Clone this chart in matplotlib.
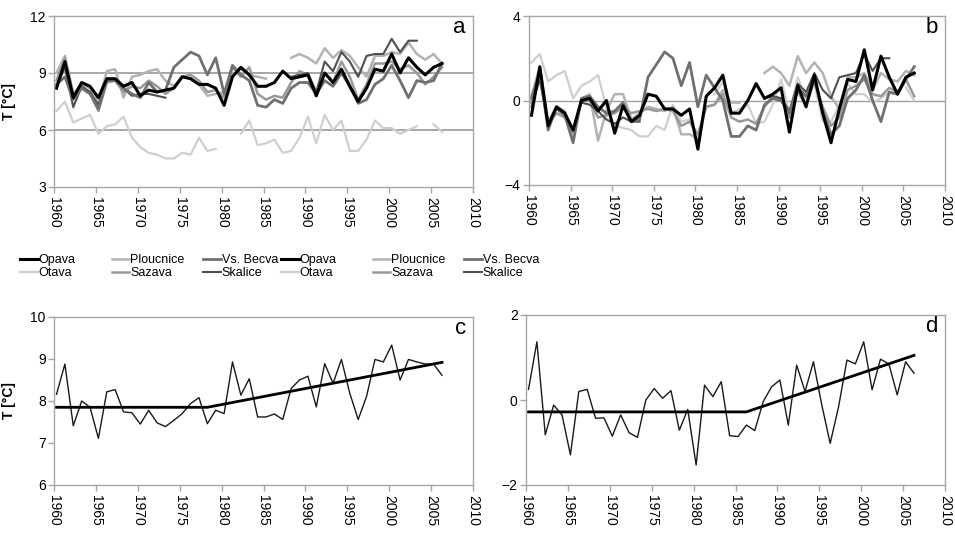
import numpy as np
import matplotlib
matplotlib.use("Agg")
import matplotlib.pyplot as plt
from matplotlib.lines import Line2D

plt.rcParams['font.family'] = ['Liberation Sans', 'DejaVu Sans']

nan = np.nan
years = np.arange(1960, 2007)
X_SHIFT = 0.3  # points sit a little right of the year tick

# panel a - station temperatures [°C]
opava_a = [8.2, 9.6, 7.7, 8.5, 8.3, 7.7, 8.7, 8.7, 8.3, 8.5,
           7.8, 8.1, 8.0, 8.1, 8.2, 8.8, 8.7, 8.4, 8.4, 8.2,
           7.3, 8.8, 9.3, 8.9, 8.3, 8.3, 8.5, 9.1, 8.7, 8.8,
           8.9, 7.8, 9.0, 8.5, 9.2, 8.3, 7.5, 8.2, 9.2, 9.1,
           10.0, 9.0, 9.8, 9.3, 8.9, 9.3, 9.5]
otava_a = [7.0, 7.5, 6.4, 6.6, 6.8, 5.8, 6.2, 6.3, 6.7, 5.6,
           5.1, 4.8, 4.7, 4.5, 4.5, 4.8, 4.7, 5.6, 4.9, 5.0,
           nan, nan, 5.8, 6.5, 5.2, 5.3, 5.5, 4.8, 4.9, 5.6,
           6.7, 5.3, 6.8, 6.0, 6.5, 4.9, 4.9, 5.5, 6.5, 6.1,
           6.1, 5.8, 6.0, 6.2, nan, 6.3, 5.9]
ploucnice_a = [9.0, 9.9, 7.9, 8.4, 8.2, 7.4, 9.1, 9.2, 7.7, 8.8,
               8.9, 9.1, 9.2, 8.6, 8.3, 8.8, 8.7, 8.4, 7.8, 7.9,
               8.0, 8.9, 9.2, 8.9, 8.8, 8.7, nan, nan, 9.8, 10.0,
               9.8, 9.5, 10.3, 9.8, 10.2, 9.9, 9.3, 8.8, 9.9, 9.9,
               10.1, 10.0, 10.6, 10.0, 9.7, 10.0, 9.5]
sazava_a = [8.6, 9.8, 7.9, 8.2, 8.0, 7.0, 8.5, 8.6, 8.0, 8.3,
            8.2, 8.6, 8.3, 7.9, 8.2, 8.8, 8.9, 8.6, 8.0, 8.1,
            7.7, 9.3, 8.8, 9.3, 7.9, 7.6, 7.8, 7.7, 8.5, 9.1,
            8.9, 7.9, 9.0, 8.5, 9.6, 8.8, 7.6, 8.4, 9.5, 9.5,
            9.6, 9.2, 9.4, 9.0, 8.4, 8.8, 9.3]
becva_a = [8.4, 8.8, 7.6, 8.2, 7.9, 7.1, 8.6, 8.6, 8.2, 7.9,
           7.7, 8.5, 8.0, 8.1, 9.3, 9.7, 10.1, 9.9, 8.9, 9.8,
           7.9, 9.4, 8.9, 8.6, 7.3, 7.2, 7.6, 7.4, 8.2, 8.5,
           8.5, 7.9, 8.6, 8.3, 9.0, 8.3, 7.4, 7.6, 8.4, 8.7,
           9.4, 8.6, 7.7, 8.6, 8.5, 8.6, 9.5]
skalice_a = [8.3, 9.3, 7.2, 8.3, 8.0, 7.3, 8.6, 8.6, 8.2, 7.8,
             7.9, 7.9, 7.8, 7.7, nan, nan, nan, nan, nan, nan,
             nan, nan, nan, nan, nan, nan, nan, nan, 8.8, 8.9,
             9.0, 8.0, 9.6, 9.1, 10.1, 9.6, 8.8, 9.9, 10.0, 10.0,
             10.8, 10.1, 10.7, 10.7, nan, nan, nan]

# panel b - anomalies [°C]
opava_b = [-0.7, 1.6, -1.2, -0.3, -0.6, -1.4, 0.0, 0.1, -0.5, 0.0,
           -1.55, -0.25, -1.0, -0.7, 0.3, 0.2, -0.4, -0.4, -0.7, -0.4,
           -2.3, 0.2, 0.6, 1.2, -0.6, -0.6, 0.0, 0.8, 0.1, 0.3,
           0.6, -1.5, 0.7, -0.3, 1.2, -0.6, -2.0, -0.4, 1.0, 0.9,
           2.4, 0.5, 2.1, 1.1, 0.3, 1.1, 1.3]
otava_b = [1.8, 2.2, 0.9, 1.2, 1.4, 0.1, 0.7, 0.9, 1.2, -0.3,
           -1.2, -1.3, -1.4, -1.7, -1.7, -1.2, -1.4, -0.2, -1.0, -0.9,
           nan, nan, 0.3, 0.9, -0.6, -0.4, -0.2, -1.1, -1.0, -0.2,
           1.0, -0.6, 1.1, 0.1, 0.8, -1.0, -1.0, -0.2, 0.8, 0.3,
           0.3, -0.1, 0.1, 0.4, nan, 0.6, 0.0]
ploucnice_b = [0.2, 1.6, -1.0, -0.3, -0.5, -1.8, 0.1, 0.3, -1.9, -0.5,
               0.3, 0.3, -0.9, -0.6, -0.3, -0.4, -0.5, -0.3, -1.6, -1.6,
               -1.8, -0.3, -0.2, 0.5, -0.1, -0.1, nan, nan, 1.3, 1.6,
               1.3, 0.7, 2.1, 1.3, 1.8, 1.3, 0.2, -0.4, 1.1, 1.1,
               1.3, 0.5, 1.3, 1.0, 0.9, 1.4, 1.2]
sazava_b = [-0.1, 1.2, -1.1, -0.6, -0.8, -1.5, 0.0, 0.0, -0.8, -0.7,
            -0.6, -0.3, -0.6, -0.5, -0.4, -0.5, -0.4, -0.5, -1.2, -1.0,
            -1.6, -0.3, -0.2, 0.3, -0.8, -1.0, -0.9, -1.1, -0.3, 0.2,
            0.1, -0.8, 0.4, -0.2, 0.9, -0.3, -1.2, -0.8, 0.5, 0.7,
            1.0, 0.3, 0.2, 0.6, 0.4, 1.0, 0.2]
becva_b = [0.1, 1.4, -1.4, -0.3, -0.7, -2.0, 0.1, 0.2, -0.3, -0.6,
           -0.5, -0.1, -1.0, -0.9, 1.1, 1.7, 2.3, 2.0, 0.7, 1.8,
           -0.3, 1.2, 0.6, 0.0, -1.7, -1.7, -1.2, -1.4, -0.2, 0.1,
           0.0, -0.6, 0.6, 0.2, 1.0, -0.5, -1.6, -1.2, 0.1, 0.5,
           1.2, 0.0, -1.0, 0.4, 0.3, 1.0, 1.6]
skalice_b = [-0.3, 1.0, -1.2, -0.4, -0.7, -1.4, -0.1, -0.2, -0.5, -0.9,
             -1.1, -0.8, -1.0, -1.0, nan, nan, nan, nan, nan, nan,
             nan, nan, nan, nan, nan, nan, nan, nan, 0.1, 0.2,
             0.1, -0.5, 0.8, 0.4, 1.3, 0.5, 0.1, 1.1, 1.2, 1.3,
             2.2, 1.4, 2.0, 2.0, nan, nan, nan]

# panel c - mean temperature with piecewise trend
mean_c = [8.16, 8.88, 7.41, 8.0, 7.85, 7.11, 8.22, 8.27, 7.74, 7.72,
          7.45, 7.78, 7.48, 7.39, 7.54, 7.70, 7.94, 8.08, 7.46, 7.78,
          7.70, 8.93, 8.14, 8.53, 7.62, 7.62, 7.69, 7.56, 8.30, 8.50,
          8.59, 7.86, 8.89, 8.42, 8.99, 8.18, 7.56, 8.11, 8.99, 8.93,
          9.33, 8.50, 8.99, 8.93, 8.88, 8.88, 8.61]
trend_c_years = [1960, 1978, 2006]
trend_c_vals = [7.85, 7.85, 8.92]

# panel d - mean anomaly with piecewise trend
mean_d = [0.25, 1.37, -0.82, -0.12, -0.35, -1.29, 0.2, 0.25, -0.43, -0.42,
          -0.85, -0.35, -0.77, -0.88, 0.0, 0.27, 0.04, 0.22, -0.71, -0.22,
          -1.53, 0.35, 0.08, 0.43, -0.84, -0.86, -0.59, -0.72, -0.04, 0.31,
          0.47, -0.59, 0.82, 0.2, 0.9, -0.12, -1.02, -0.16, 0.94, 0.85,
          1.37, 0.24, 0.96, 0.85, 0.12, 0.9, 0.63]
trend_d_years = [1960, 1986, 2006]
trend_d_vals = [-0.28, -0.28, 1.05]

station_names = ['Opava', 'Otava', 'Ploucnice', 'Sazava', 'Vs. Becva', 'Skalice']
station_colors = ['#000000', '#cfcfcf', '#b3b3b3', '#999999', '#707070', '#4f4f4f']
station_widths = [2.2, 1.6, 1.8, 1.8, 2.0, 1.5]
series_a = [opava_a, otava_a, ploucnice_a, sazava_a, becva_a, skalice_a]
series_b = [opava_b, otava_b, ploucnice_b, sazava_b, becva_b, skalice_b]
draw_order = [1, 2, 3, 5, 4, 0]

W, H = 955, 533
fig = plt.figure(figsize=(W / 100, H / 100), dpi=100)

frame_col = '#a6a6a6'


def style_axis(ax, ylim, yticks):
    ax.set_xlim(1960, 2010)
    ax.set_ylim(*ylim)
    ax.set_xticks(np.arange(1960, 2011, 5))
    ax.set_yticks(yticks)
    for s in ax.spines.values():
        s.set_color(frame_col)
        s.set_linewidth(1.0)
    ax.tick_params(axis='both', colors=frame_col, labelcolor='black',
                   length=4, width=1.0, labelsize=10)
    ax.tick_params(axis='x', labelrotation=-90, pad=3)
    ax.tick_params(axis='y', pad=2)


def panel_letter(ax, letter):
    ax.text(0.983, 0.93, letter, transform=ax.transAxes, ha='right',
            va='center', fontsize=16)


# a
ax_a = fig.add_axes([54 / W, 1 - 187 / H, 419 / W, 171 / H])
style_axis(ax_a, (3, 12), [3, 6, 9, 12])
for g in [6, 9]:
    ax_a.axhline(g, color='#a0a0a0', lw=1.3, zorder=0)
for i in draw_order:
    ax_a.plot(years + X_SHIFT, series_a[i], color=station_colors[i],
              lw=station_widths[i])
ax_a.set_ylabel('T [°C]', fontsize=10, fontweight='bold')
ax_a.yaxis.set_label_coords(-0.09, 0.5)
panel_letter(ax_a, 'a')

# b
ax_b = fig.add_axes([529 / W, 1 - 185 / H, 416 / W, 169 / H])
style_axis(ax_b, (-4, 4), [-4, 0, 4])
ax_b.axhline(0, color='#a0a0a0', lw=1.0, zorder=0)
for i in draw_order:
    ax_b.plot(years + X_SHIFT, series_b[i], color=station_colors[i],
              lw=station_widths[i])
panel_letter(ax_b, 'b')

# c
ax_c = fig.add_axes([54 / W, 1 - 485 / H, 419 / W, 168 / H])
style_axis(ax_c, (6, 10), [6, 7, 8, 9, 10])
ax_c.plot(years + X_SHIFT, mean_c, color='#1a1a1a', lw=1.0)
ax_c.plot(np.array(trend_c_years) + X_SHIFT, trend_c_vals, color='black', lw=2.0)
ax_c.set_ylabel('T [°C]', fontsize=10, fontweight='bold')
ax_c.yaxis.set_label_coords(-0.09, 0.5)
panel_letter(ax_c, 'c')

# d
ax_d = fig.add_axes([526 / W, 1 - 485 / H, 419 / W, 170 / H])
style_axis(ax_d, (-2, 2), [-2, 0, 2])
ax_d.plot(years + X_SHIFT, mean_d, color='#1a1a1a', lw=1.0)
ax_d.plot(np.array(trend_d_years) + X_SHIFT, trend_d_vals, color='black', lw=2.0)
panel_letter(ax_d, 'd')

# legends under a and b, one column at a time
handles = [Line2D([], [], color=c, lw=w) for c, w in zip(station_colors, station_widths)]
legend_font = {'family': ['Liberation Sans Narrow', 'Liberation Sans'], 'size': 9}
for x0 in [20, 281]:
    for col in range(3):
        idx = [2 * col, 2 * col + 1]
        fig.legend([handles[k] for k in idx], [station_names[k] for k in idx],
                   loc='upper left',
                   bbox_to_anchor=((x0 + 91.5 * col) / W, 1 - 254 / H),
                   frameon=False, borderpad=0, borderaxespad=0,
                   handlelength=1.4, handletextpad=0.1, labelspacing=0.1,
                   prop=legend_font)

fig.savefig('out.png', dpi=100)
